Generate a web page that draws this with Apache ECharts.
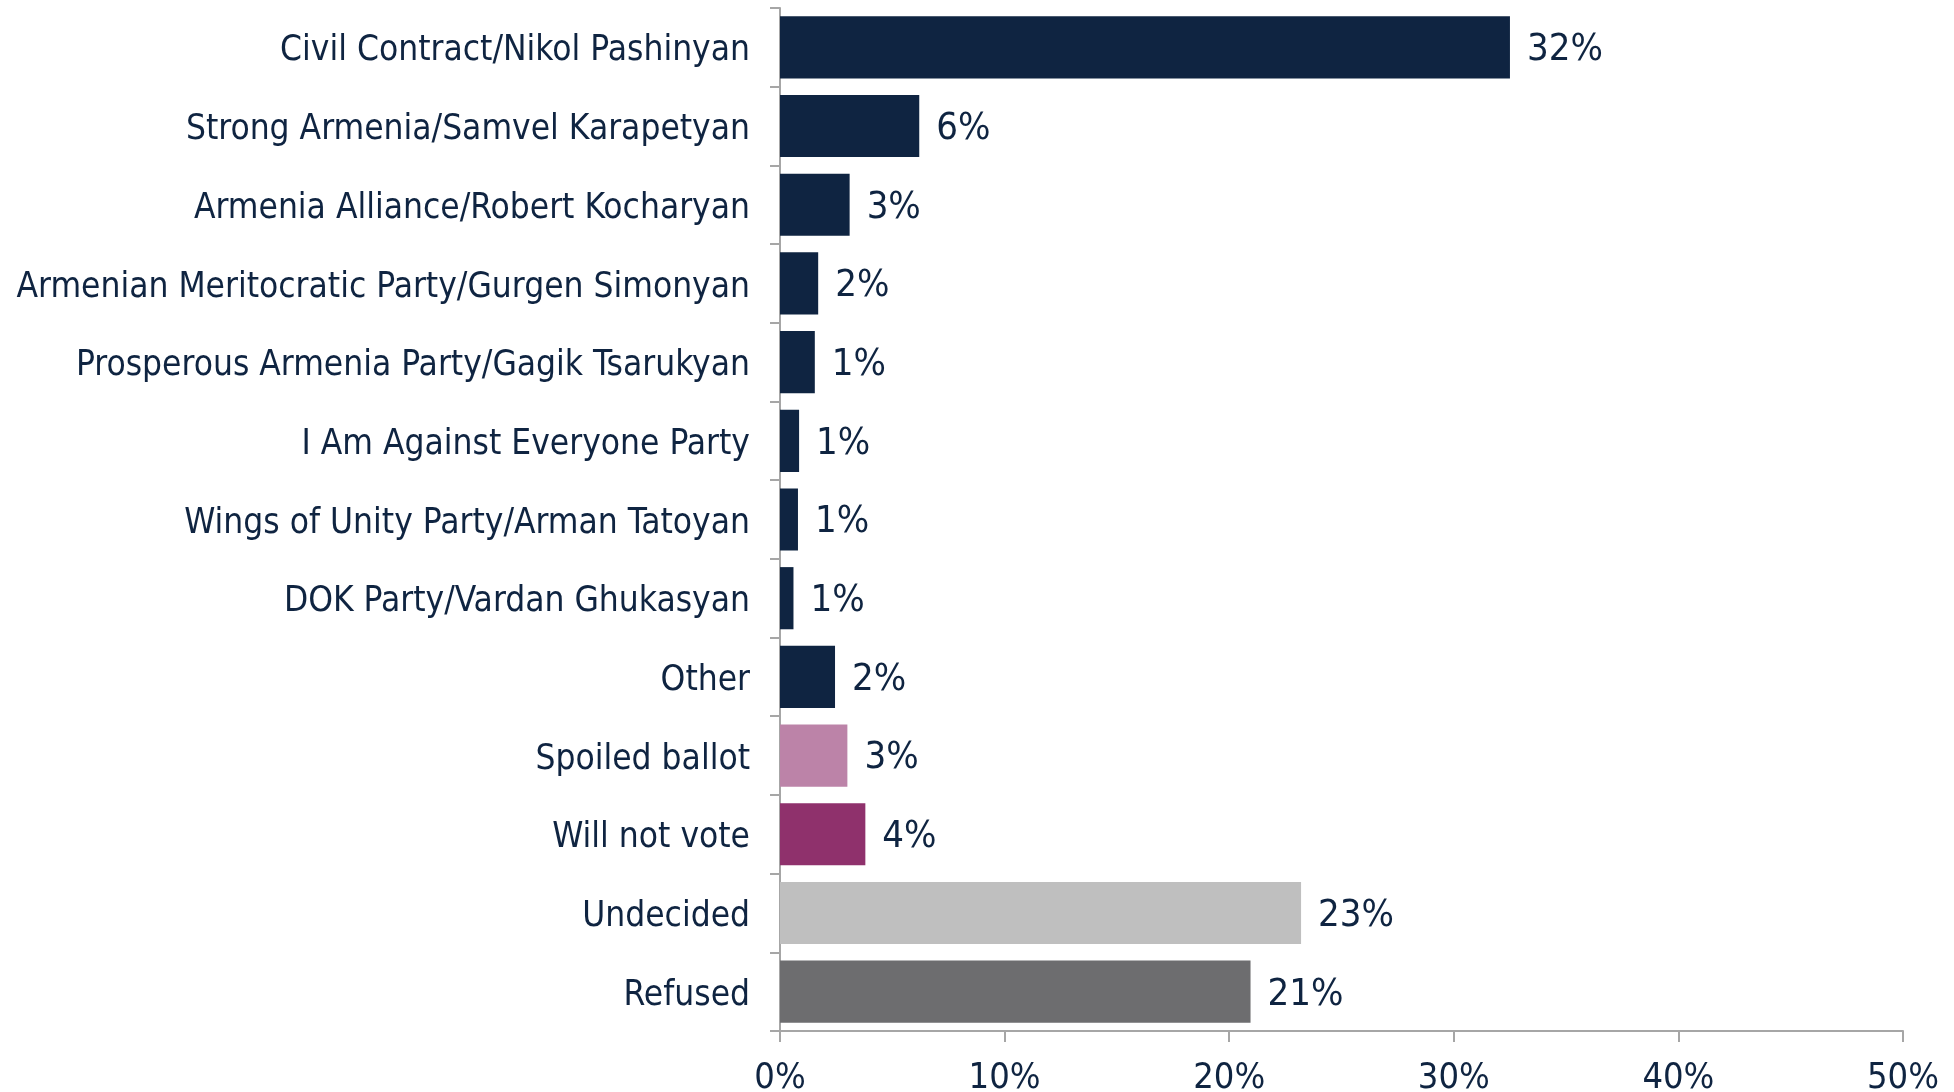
<!DOCTYPE html>
<html>
<head>
<meta charset="utf-8">
<style>
  html, body { margin: 0; padding: 0; background: #ffffff; }
  #chart { width: 1954px; height: 1092px; }
</style>
<script src="https://cdn.jsdelivr.net/npm/echarts@6/dist/echarts.min.js"></script>
</head>
<body>
<div id="chart"></div>
<script>
const categories = [
  "Civil Contract/Nikol Pashinyan",
  "Strong Armenia/Samvel Karapetyan",
  "Armenia Alliance/Robert Kocharyan",
  "Armenian Meritocratic Party/Gurgen Simonyan",
  "Prosperous Armenia Party/Gagik Tsarukyan",
  "I Am Against Everyone Party",
  "Wings of Unity Party/Arman Tatoyan",
  "DOK Party/Vardan Ghukasyan",
  "Other",
  "Spoiled ballot",
  "Will not vote",
  "Undecided",
  "Refused"
];
const values = [32.5, 6.2, 3.1, 1.7, 1.55, 0.85, 0.8, 0.6, 2.45, 3.0, 3.8, 23.2, 20.95];
const valueLabels = ["32%", "6%", "3%", "2%", "1%", "1%", "1%", "1%", "2%", "3%", "4%", "23%", "21%"];
const xTicks = [0, 10, 20, 30, 40, 50];

const NAVY = "#0f2441";
const specialColors = {
  "Spoiled ballot": "#bc83a8",
  "Will not vote": "#8f316c",
  "Undecided": "#bfbfbf",
  "Refused": "#6d6d6f"
};
const FONT = '"Liberation Sans Narrow", "DejaVu Sans Condensed", "Noto Sans", sans-serif';

const chart = echarts.init(document.getElementById('chart'), null, { renderer: 'canvas' });
chart.setOption({
  animation: false,
  backgroundColor: '#ffffff',
  grid: { left: 780, right: 51, top: 8, bottom: 61, containLabel: false, outerBoundsMode: 'none' },
  xAxis: {
    type: 'value',
    min: xTicks[0],
    max: xTicks[xTicks.length - 1],
    interval: xTicks[1] - xTicks[0],
    splitLine: { show: false },
    axisLine: { show: true, lineStyle: { color: '#a6a6a6', width: 2 } },
    axisTick: { show: true, length: 11, lineStyle: { color: '#a6a6a6', width: 2 } },
    axisLabel: {
      formatter: '{value}%',
      color: NAVY,
      fontFamily: FONT,
      fontSize: 36,
      margin: 30
    }
  },
  yAxis: {
    type: 'category',
    inverse: true,
    data: categories,
    axisLine: { show: true, lineStyle: { color: '#a6a6a6', width: 2 } },
    axisTick: { show: true, length: 10, lineStyle: { color: '#a6a6a6', width: 2 } },
    axisLabel: {
      color: NAVY,
      fontFamily: FONT,
      fontSize: 35,
      margin: 30,
      formatter: (v) => '{c|' + v + '}',
      rich: { c: { color: NAVY, fontFamily: FONT, fontSize: 35, padding: [8, 0, 0, 0] } }
    }
  },
  series: [{
    type: 'bar',
    barCategoryGap: '21%',
    data: values.map((v, i) => ({
      value: v,
      itemStyle: { color: specialColors[categories[i]] || NAVY }
    })),
    label: {
      show: true,
      position: 'right',
      distance: 17,
      color: NAVY,
      fontFamily: FONT,
      fontSize: 38,
      formatter: (p) => '{v|' + valueLabels[p.dataIndex] + '}',
      rich: { v: { color: NAVY, fontFamily: FONT, fontSize: 38, padding: [6, 0, 0, 0] } }
    }
  }]
});
</script>
</body>
</html>
